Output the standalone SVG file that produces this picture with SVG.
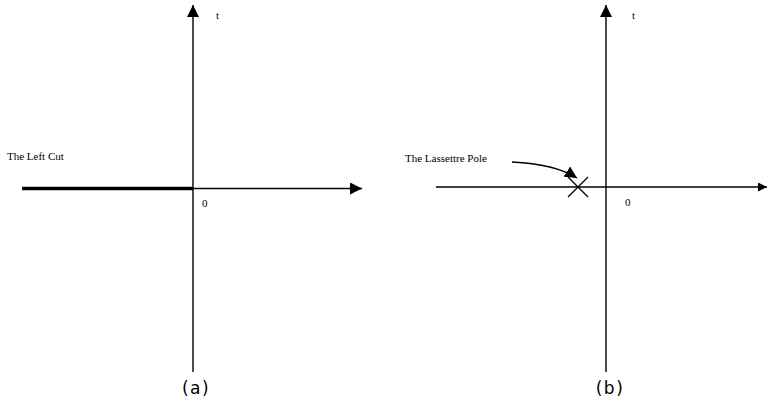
<svg xmlns="http://www.w3.org/2000/svg" width="768" height="402" viewBox="0 0 768 402">
<style>
.ax{stroke:#000;stroke-width:1.4;fill:none}
.lbl{font-family:"Liberation Serif",serif;font-size:11px;fill:#000}
.cap{font-family:"DejaVu Sans","Liberation Sans",sans-serif;font-size:17px;fill:#000;letter-spacing:1.5px}
</style>
<defs>
<marker id="ah" viewBox="0 0 10 10" refX="10" refY="5" markerWidth="12" markerHeight="12" markerUnits="userSpaceOnUse" orient="auto">
<path d="M0,0 L10,5 L0,10 z" fill="#000"/>
</marker>
<marker id="ah2" viewBox="0 0 10 10" refX="10" refY="5" markerWidth="9" markerHeight="9" markerUnits="userSpaceOnUse" orient="auto">
<path d="M0,0 L10,5 L0,10 z" fill="#000"/>
</marker>
</defs>
<rect width="768" height="402" fill="#fff"/>
<g id="connectors">
<line class="ax" x1="193" y1="372" x2="193" y2="5" marker-end="url(#ah)"/>
<line class="ax" x1="22" y1="188.5" x2="362" y2="188.5" marker-end="url(#ah)"/>
<line x1="22" y1="188.5" x2="193" y2="188.5" stroke="#000" stroke-width="3.5"/>
<line class="ax" x1="606" y1="372" x2="606" y2="5" marker-end="url(#ah)"/>
<line class="ax" x1="436" y1="187" x2="767" y2="187" marker-end="url(#ah2)"/>
<path class="ax" d="M512,162 Q555,164 577,178" stroke-width="1.2" marker-end="url(#ah)"/>
</g>
<g id="pole">
<line x1="568" y1="177" x2="588" y2="197" stroke="#000" stroke-width="1.3"/>
<line x1="568" y1="197" x2="588" y2="177" stroke="#000" stroke-width="1.3"/>
</g>
<g id="labels">
<text class="lbl" x="7" y="160">The Left Cut</text>
<text class="lbl" x="202" y="207">0</text>
<text class="lbl" x="216" y="19">t</text>
<text class="lbl" x="405" y="162">The Lassettre Pole</text>
<text class="lbl" x="625" y="206">0</text>
<text class="lbl" x="632" y="19">t</text>
<text class="cap" x="196" y="394" text-anchor="middle">(a)</text>
<text class="cap" x="610" y="394" text-anchor="middle">(b)</text>
</g>
</svg>
